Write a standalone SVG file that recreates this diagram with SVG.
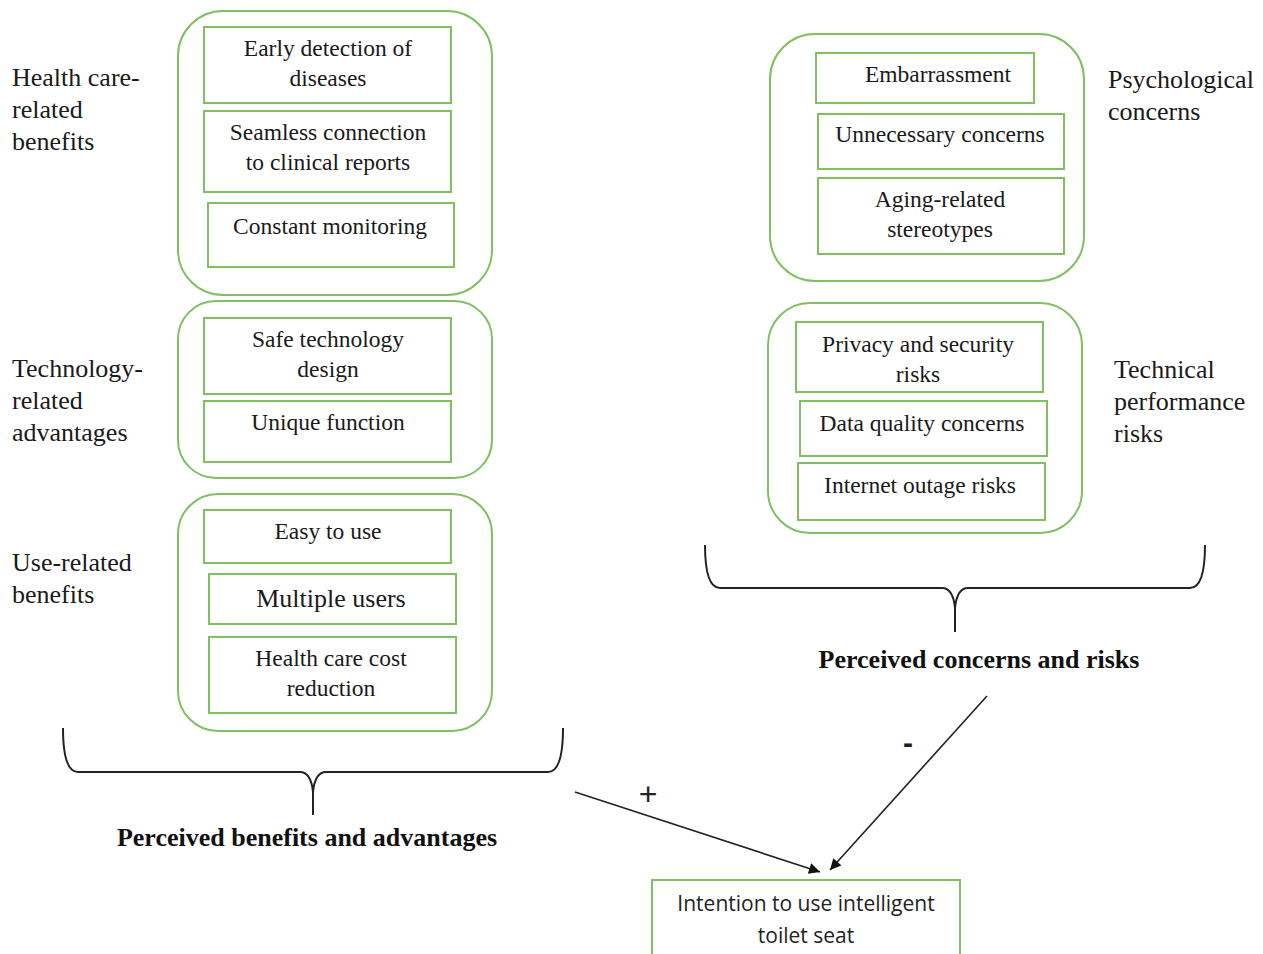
<svg xmlns="http://www.w3.org/2000/svg" width="1263" height="954" viewBox="0 0 1263 954">
<style>
.grp{fill:none;stroke:#80c062;stroke-width:2}
.box{fill:#fff;stroke:#80c062;stroke-width:2}
.t{font-family:"Liberation Serif",serif;font-size:23.5px;fill:#1a1a1a;text-anchor:middle}
.lbl{font-family:"Liberation Serif",serif;font-size:26px;fill:#1a1a1a}
.bold{font-family:"Liberation Serif",serif;font-size:26px;font-weight:bold;fill:#111;text-anchor:middle}
.sans{font-family:"Open Sans","Liberation Sans",sans-serif;font-size:21px;fill:#222;text-anchor:middle}
.brace{fill:none;stroke:#222;stroke-width:2}
.arr{stroke:#222;stroke-width:1.6;fill:none;marker-end:url(#ah)}
</style>
<defs>
<marker id="ah" viewBox="0 0 10 10" refX="10" refY="5" markerWidth="13" markerHeight="11" markerUnits="userSpaceOnUse" orient="auto">
<path d="M0,0 L10,5 L0,10 z" fill="#111"/>
</marker>
</defs>
<rect width="1263" height="954" fill="#fff"/>

<g id="health-care-benefits">
<rect class="grp" x="178" y="11" width="314" height="284" rx="45"/>
<text class="lbl" x="12" y="86">Health care-</text>
<text class="lbl" x="12" y="118">related</text>
<text class="lbl" x="12" y="150">benefits</text>
<g id="early-detection"><rect class="box" x="204" y="27" width="247" height="76"/>
<text class="t" x="328" y="56">Early detection of</text><text class="t" x="328" y="86">diseases</text></g>
<g id="seamless"><rect class="box" x="204" y="111" width="247" height="81"/>
<text class="t" x="328" y="140">Seamless connection</text><text class="t" x="328" y="170">to clinical reports</text></g>
<g id="constant"><rect class="box" x="208" y="203" width="246" height="64"/>
<text class="t" x="330" y="234">Constant monitoring</text></g>
</g>

<g id="technology-advantages">
<rect class="grp" x="178" y="301" width="314" height="177" rx="38"/>
<text class="lbl" x="12" y="377">Technology-</text>
<text class="lbl" x="12" y="409">related</text>
<text class="lbl" x="12" y="441">advantages</text>
<g id="safe"><rect class="box" x="204" y="318" width="247" height="76"/>
<text class="t" x="328" y="347">Safe technology</text><text class="t" x="328" y="377">design</text></g>
<g id="unique"><rect class="box" x="204" y="401" width="247" height="61"/>
<text class="t" x="328" y="430">Unique function</text></g>
</g>

<g id="use-benefits">
<rect class="grp" x="178" y="494" width="314" height="237" rx="40"/>
<text class="lbl" x="12" y="571">Use-related</text>
<text class="lbl" x="12" y="603">benefits</text>
<g id="easy"><rect class="box" x="204" y="510" width="247" height="53"/>
<text class="t" x="328" y="539">Easy to use</text></g>
<g id="multiple"><rect class="box" x="209" y="574" width="247" height="50"/>
<text class="t" x="331" y="607" style="font-size:26px">Multiple users</text></g>
<g id="cost"><rect class="box" x="209" y="637" width="247" height="76"/>
<text class="t" x="331" y="666">Health care cost</text><text class="t" x="331" y="696">reduction</text></g>
</g>

<g id="psychological-concerns">
<rect class="grp" x="770" y="34" width="314" height="247" rx="45"/>
<text class="lbl" x="1108" y="88">Psychological</text>
<text class="lbl" x="1108" y="120">concerns</text>
<g id="embarrassment"><rect class="box" x="816" y="53" width="218" height="50"/>
<text class="t" x="938" y="82">Embarrassment</text></g>
<g id="unnecessary"><rect class="box" x="818" y="114" width="246" height="55"/>
<text class="t" x="940" y="142">Unnecessary concerns</text></g>
<g id="aging"><rect class="box" x="818" y="178" width="246" height="76"/>
<text class="t" x="940" y="207">Aging-related</text><text class="t" x="940" y="237">stereotypes</text></g>
</g>

<g id="technical-risks">
<rect class="grp" x="768" y="303" width="314" height="230" rx="42"/>
<text class="lbl" x="1114" y="378">Technical</text>
<text class="lbl" x="1114" y="410">performance</text>
<text class="lbl" x="1114" y="442">risks</text>
<g id="privacy"><rect class="box" x="796" y="322" width="247" height="70"/>
<text class="t" x="918" y="352">Privacy and security</text><text class="t" x="918" y="382">risks</text></g>
<g id="data-quality"><rect class="box" x="800" y="401" width="247" height="55"/>
<text class="t" x="922" y="431">Data quality concerns</text></g>
<g id="internet"><rect class="box" x="798" y="463" width="247" height="57"/>
<text class="t" x="920" y="493">Internet outage risks</text></g>
</g>

<g id="benefits-brace">
<path class="brace" d="M63,728 Q63,772 78,772 L300,772 Q311,772 313,792 L313,815 M313,792 Q315,772 326,772 L548,772 Q563,772 563,728"/>
<text class="bold" x="307" y="846">Perceived benefits and advantages</text>
</g>

<g id="concerns-brace">
<path class="brace" d="M705,545 Q705,588 720,588 L942,588 Q953,588 955,608 L955,632 M955,608 Q957,588 968,588 L1190,588 Q1205,588 1205,545"/>
<text class="bold" x="979" y="668">Perceived concerns and risks</text>
</g>

<g id="intention">
<rect class="box" x="652" y="880" width="308" height="90"/>
<text class="sans" x="806" y="911">Intention to use intelligent</text>
<text class="sans" x="806" y="943">toilet seat</text>
</g>

<g id="connectors">
<line class="arr" x1="575" y1="792" x2="820" y2="872"/>
<line class="arr" x1="987" y1="696" x2="830" y2="870"/>
<text x="648" y="805" text-anchor="middle" style="font-family:'Liberation Sans',sans-serif;font-size:32px;fill:#222">+</text>
<text x="908" y="753" text-anchor="middle" style="font-family:'Liberation Sans',sans-serif;font-size:30px;font-weight:bold;fill:#222">-</text>
</g>
</svg>
